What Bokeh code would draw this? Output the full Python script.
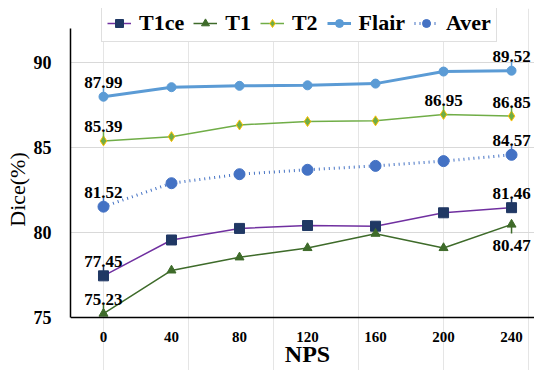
from bokeh.plotting import figure
from bokeh.models import FixedTicker, Range1d, Legend, Span
from bokeh.embed import file_html
from bokeh.resources import INLINE
from bokeh.core.properties import value

nps = [0, 40, 80, 120, 160, 200, 240]
nps_labels = ["0", "40", "80", "120", "160", "200", "240"]
t1ce = [77.45, 79.56, 80.24, 80.41, 80.37, 81.16, 81.46]
t1 = [75.23, 77.77, 78.54, 79.09, 79.93, 79.09, 80.47]
t2 = [85.39, 85.64, 86.33, 86.53, 86.57, 86.95, 86.85]
flair = [87.99, 88.55, 88.63, 88.66, 88.76, 89.47, 89.52]
aver = [81.52, 82.90, 83.43, 83.69, 83.92, 84.20, 84.57]
y_ticks = [75, 80, 85, 90]
y_min = 75

# labelled points: (series, index, above?)
labelled = [("flair", 0, True), ("t2", 0, True), ("aver", 0, True), ("t1ce", 0, True), ("t1", 0, True),
            ("t2", 5, True),
            ("flair", 6, True), ("t2", 6, True), ("aver", 6, True), ("t1ce", 6, True), ("t1", 6, False)]

SERIF = "Liberation Serif"

p = figure(width=534, height=370, output_backend="svg", toolbar_location=None,
           x_axis_location=None,
           x_range=Range1d(-19.4, 253.5), y_range=Range1d(71.88, 93.18),
           min_border_left=70, min_border_right=0, min_border_top=8, min_border_bottom=0)
p.outline_line_color = None
p.background_fill_color = "white"

p.ygrid.grid_line_color = "#D9D9D9"
p.ygrid.grid_line_width = 1
p.ygrid.ticker = FixedTicker(ticks=y_ticks)

ax = p.yaxis[0]
ax.ticker = FixedTicker(ticks=y_ticks)
ax.bounds = (75, 92)
ax.major_tick_line_color = None
ax.minor_tick_line_color = None
ax.axis_line_color = "black"
ax.axis_line_width = 1.5
ax.major_label_text_font = SERIF
ax.major_label_text_font_style = "bold"
ax.major_label_text_color = "black"
ax.major_label_text_font_size = "18px"
ax.major_label_standoff = 13
ax.axis_label = "Dice(%)"
ax.axis_label_text_font = SERIF
ax.axis_label_text_color = "black"
ax.axis_label_text_font_size = "22px"
ax.axis_label_text_font_style = "normal"
ax.axis_label_standoff = 1

# x axis: baseline at y = 75, tick labels and title beneath it
p.add_layout(Span(location=y_min, dimension="width", line_color="black", line_width=1.5))
p.text(nps, [y_min] * len(nps), text=nps_labels, text_font=value(SERIF), text_font_style="bold",
       text_font_size="15px", text_color="black", text_align="center", text_baseline="middle",
       y_offset=20)
p.text([120], [y_min], text=["NPS"], text_font=value(SERIF), text_font_style="bold",
       text_font_size="24px", text_color="black", text_align="center", text_baseline="middle",
       y_offset=37)

series = {
    "t1ce": dict(data=t1ce, name="T1ce", line="#7030A0", lw=1.5, dash="solid", marker="square", size=10, fill="#203864", mline="#203864"),
    "t1": dict(data=t1, name="T1", line="#3E6B2A", lw=1.5, dash="solid", marker="triangle", size=9, fill="#3E6B2A", mline="#3E6B2A"),
    "t2": dict(data=t2, name="T2", line="#70AD47", lw=1.5, dash="solid", marker="diamond", size=10, fill="#70AD47", mline="#FFC000"),
    "flair": dict(data=flair, name="Flair", line="#5B9BD5", lw=3, dash="solid", marker="circle", size=9, fill="#5B9BD5", mline="#5B9BD5"),
    "aver": dict(data=aver, name="Aver", line="#4472C4", lw=3, dash="1 4", marker="circle", size=11, fill="#4472C4", mline="#4472C4"),
}

items = []
for key in ["t1ce", "t1", "t2", "flair", "aver"]:
    s = series[key]
    r1 = p.line(nps, s["data"], line_color=s["line"], line_width=s["lw"], line_dash=s["dash"])
    r2 = p.scatter(nps, s["data"], marker=s["marker"], size=s["size"], fill_color=s["fill"],
                   line_color=s["mline"], line_width=1)
    items.append((s["name"], [r1, r2]))

# leader lines and value labels
ppu = 17.0  # px per unit for leader length conversion
for key, i, above in labelled:
    s = series[key]
    v = s["data"][i]
    x = nps[i]
    lead = 9 / ppu
    y1 = v + lead if above else v - lead
    p.segment([x], [v], [x], [y1], line_color=s["mline"] if key != "t2" else s["line"], line_width=1.5)
    p.text([x], [v], text=[f"{v:.2f}"], text_font=value(SERIF), text_font_style="bold",
           text_font_size="17px", text_color="black", text_align="center",
           text_baseline="alphabetic" if above else "top",
           y_offset=-14 if above else 15)

legend = Legend(items=items, orientation="horizontal", location=(31, 328))
legend.label_text_font = SERIF
legend.label_text_font_style = "bold"
legend.label_text_font_size = "22px"
legend.label_text_color = "black"
legend.glyph_width = 24
legend.glyph_height = 20
legend.label_height = 20
legend.label_standoff = 8
legend.spacing = 9
legend.padding = 5
legend.margin = 0
legend.border_line_color = "#BFBFBF"
legend.border_line_width = 1
legend.background_fill_alpha = 1
p.add_layout(legend)

open("out.html", "w").write(file_html(p, INLINE))
